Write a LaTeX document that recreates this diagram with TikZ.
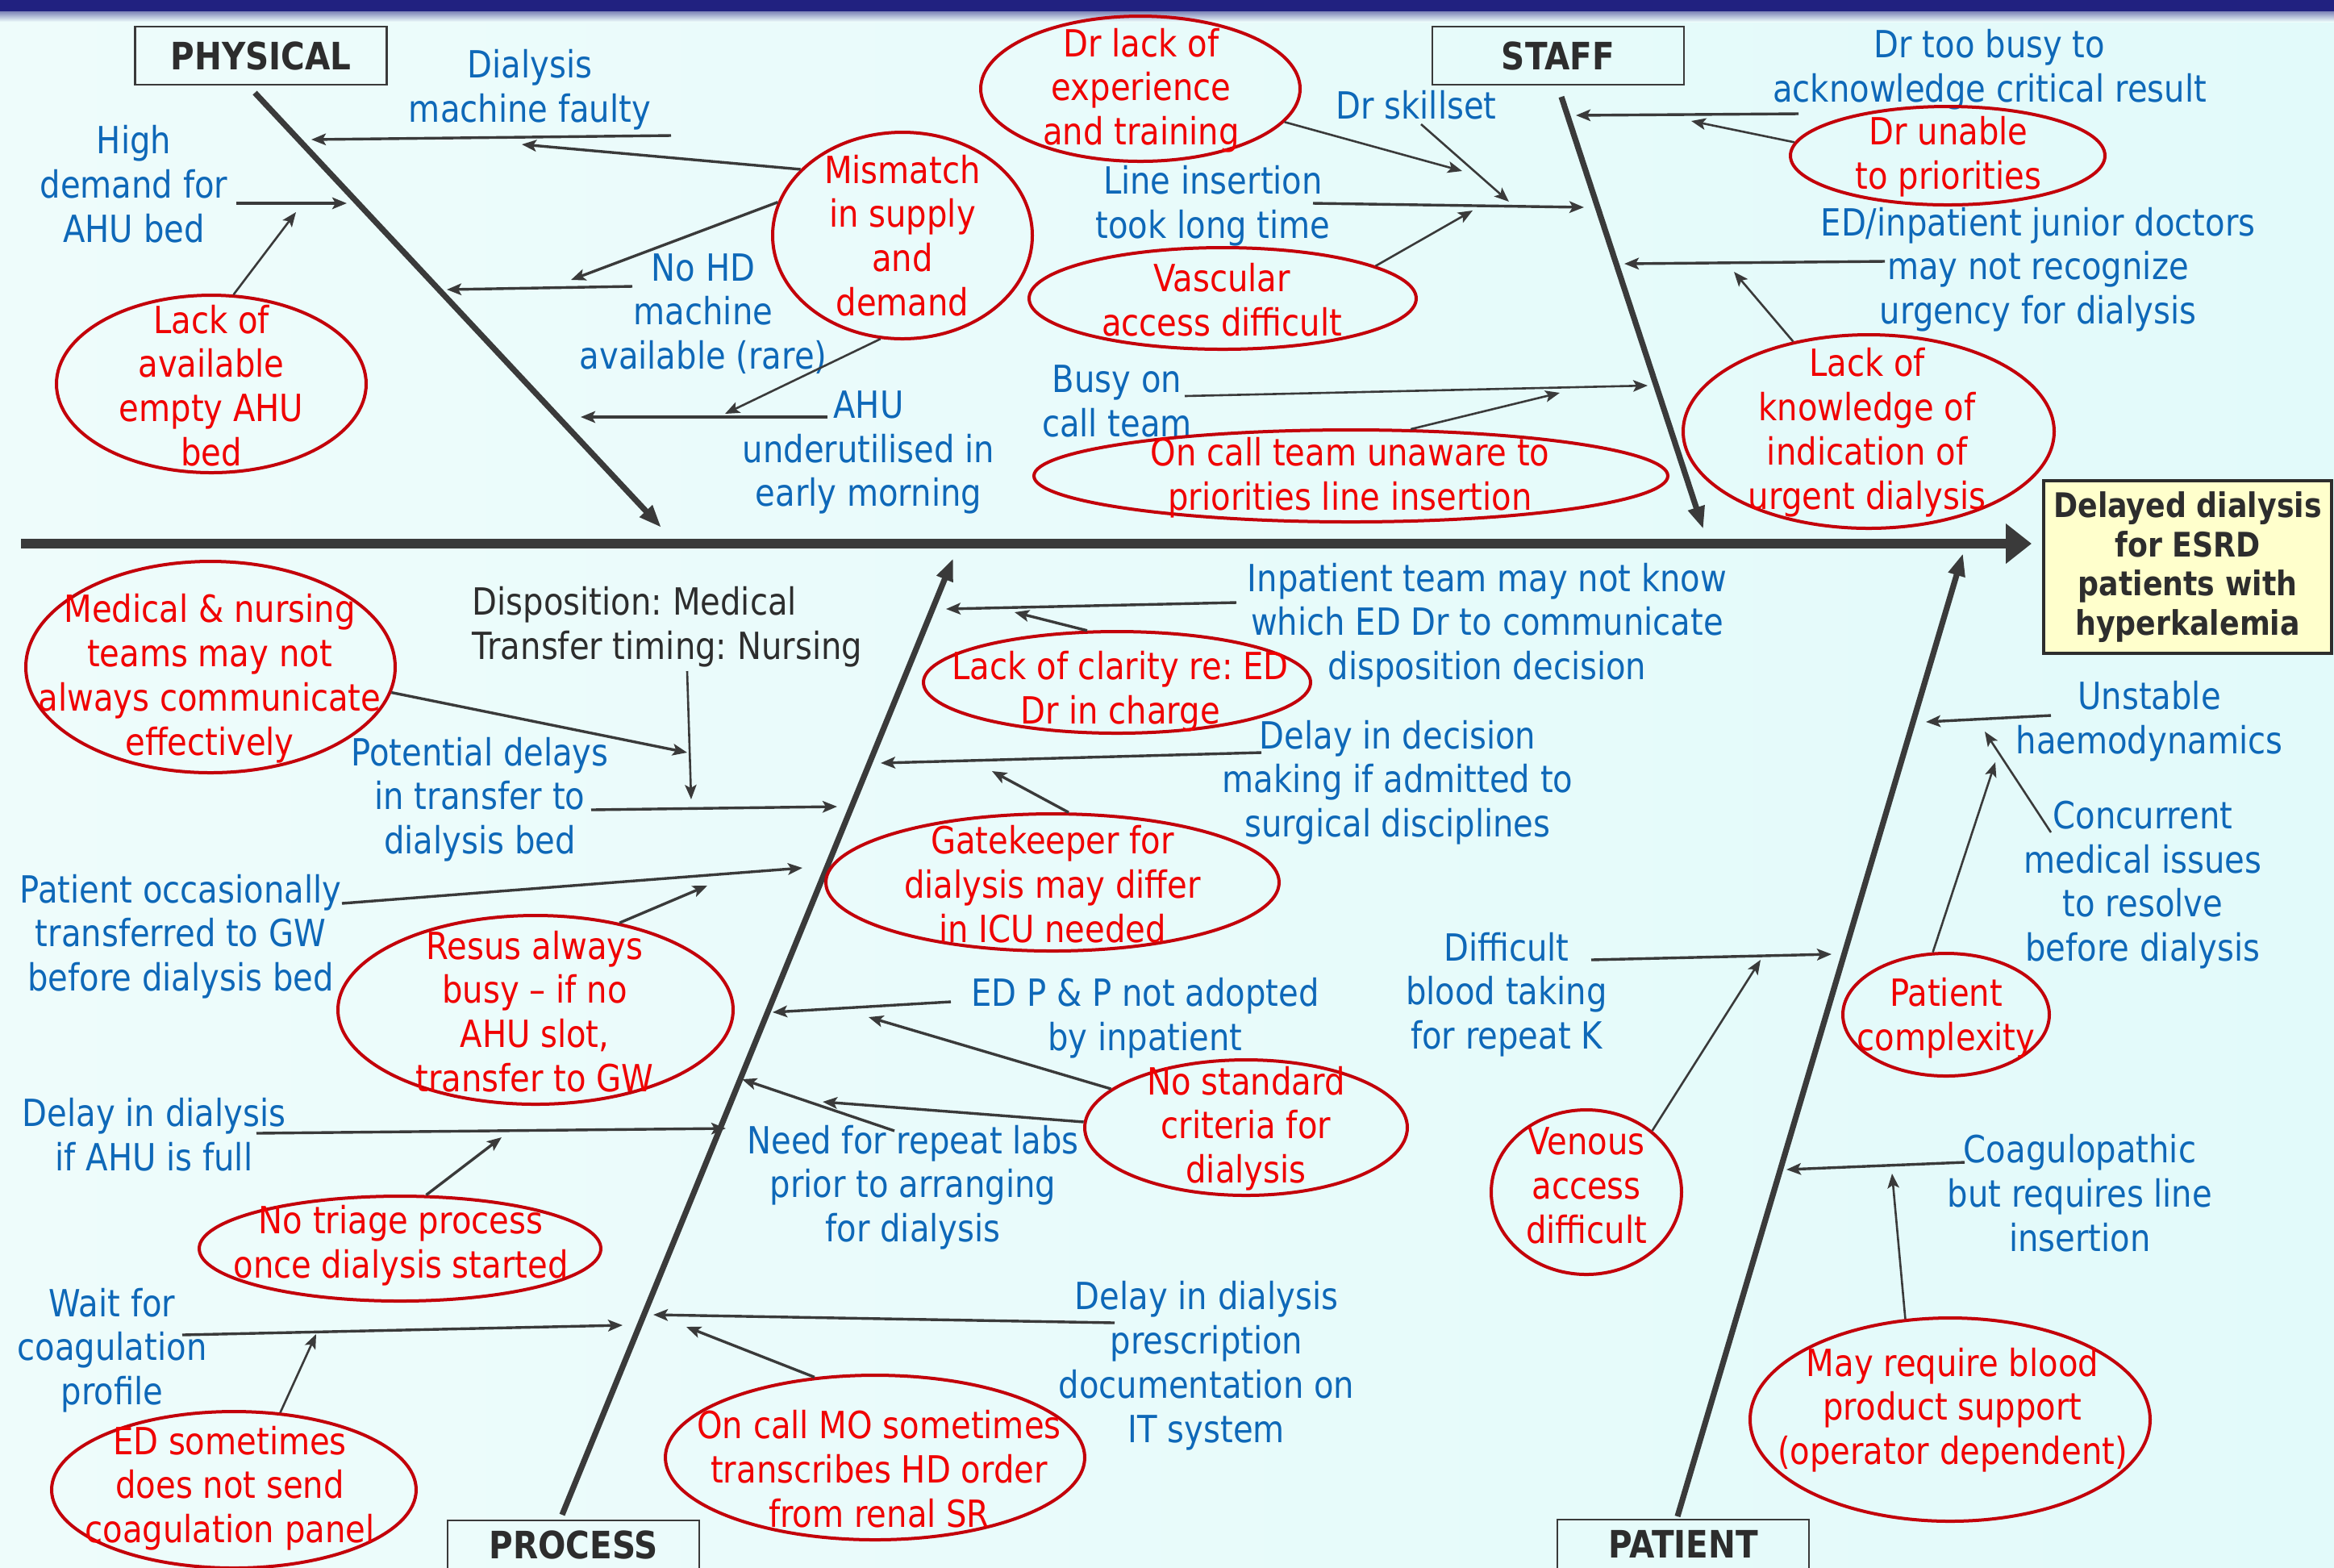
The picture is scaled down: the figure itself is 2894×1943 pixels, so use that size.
\documentclass[tikz,border=0pt]{standalone}
\usepackage{fontspec}
\setmainfont{DejaVu Sans}[FakeStretch=0.865]
\usetikzlibrary{arrows.meta,shapes.geometric}
\definecolor{bgL}{RGB}{238,252,251}
\definecolor{bgR}{RGB}{226,250,250}
\definecolor{navy}{RGB}{33,33,128}
\definecolor{tblue}{RGB}{14,104,184}
\definecolor{tred}{RGB}{240,0,0}
\definecolor{ered}{RGB}{195,0,10}
\definecolor{lgray}{RGB}{58,58,58}
\definecolor{bgray}{RGB}{45,45,45}
\definecolor{ylw}{RGB}{255,255,204}
\frenchspacing
\begin{document}
\begin{tikzpicture}[x=0.25pt,y=-0.25pt,
  txt/.style={inner sep=0pt,align=center,font=\fontsize{11.6}{13.7}\selectfont},
  bt/.style={txt,text=tblue},
  rt/.style={txt,text=tred},
  gt/.style={txt,align=left,text=bgray},
  ell/.style={ellipse,draw=ered,line width=1pt,inner sep=0pt},
  conn/.style={draw=lgray,line width=0.85pt,-{Stealth[length=4.5pt,width=3.6pt,inset=1pt]}},
  sconn/.style={conn,line width=0.65pt},
  bone/.style={draw=lgray,line width=1.8pt,-{Triangle[length=7pt,width=5pt]}},
  catbox/.style={draw=lgray,line width=0.6pt,inner sep=0pt,text=bgray,
    font=\bfseries\fontsize{11.7}{14}\selectfont,minimum width=78pt,minimum height=18pt}]
\useasboundingbox (0,0) rectangle (2894,1943);
\clip (0,0) rectangle (2894,1943);
\shade[left color=bgL,right color=bgR] (0,0) rectangle (2894,1943);
\fill[navy] (0,0) rectangle (2894,14);
\shade[top color=navy!55!bgL,bottom color=bgL] (0,14) rectangle (2894,27);

% ---------- main spine and effect ----------
\coordinate (spS) at (26,674);
\coordinate (spE) at (2519,674);
\draw[draw=lgray,line width=3.2pt,-{Triangle[length=8pt,width=12pt]}] (spS) -- (spE);
\node[draw=bgray,line width=0.8pt,fill=ylw,minimum width=89.25pt,minimum height=53.5pt,
  inner sep=0pt,align=center,text=bgray,font=\bfseries\fontsize{10.5}{12.1}\selectfont]
  (eff) at (2712.5,703) {Delayed dialysis\\for ESRD\\patients with\\hyperkalemia};

% ---------- category boxes and bones ----------
\node[catbox] (bPhys) at (323.5,69) {PHYSICAL};
\node[catbox] (bStaff) at (1932,69) {STAFF};
\node[catbox,anchor=north] (bProc) at (711,1884) {\raisebox{3pt}{PROCESS}};
\node[catbox,anchor=north] (bPat) at (2087,1883) {\raisebox{3pt}{PATIENT}};
\coordinate (b1s) at (316,115);  \coordinate (b1e) at (820,654);
\coordinate (b2s) at (1936,120); \coordinate (b2e) at (2112,656);
\coordinate (b3s) at (697,1878); \coordinate (b3e) at (1182,692);
\coordinate (b4s) at (2080,1880); \coordinate (b4e) at (2434,686);
\draw[bone] (b1s) -- (b1e);
\draw[bone] (b2s) -- (b2e);
\draw[bone] (b3s) -- (b3e);
\draw[bone] (b4s) -- (b4e);

% ---------- PHYSICAL ----------
\node[bt] (tDial) at (657,111) {Dialysis\\machine faulty};
\node[bt] (tNoHD) at (872,389) {No HD\\machine\\available (rare)};
\node[bt] (tAHU) at (1077,561) {AHU\\underutilised in\\early morning};
\node[bt] (tHigh) at (166,228) {High\\demand for\\AHU bed};
\node[ell,minimum width=80.5pt,minimum height=64pt] (eMis) at (1119,292) {};
\node[rt] (eMisT) at (1119,292) {Mismatch\\in supply\\and\\demand};
\node[ell,minimum width=96pt,minimum height=55pt] (eAvail) at (262,476) {};
\node[rt] (eAvailT) at (262,478) {Lack of\\available\\empty AHU\\bed};

\coordinate (a1s) at (832,168);  \coordinate (a1e) at (386,173);
\coordinate (a2e) at (647,179);
\coordinate (a3s) at (784,355);  \coordinate (a3e) at (554,359);
\coordinate (a4e) at (708,347);
\coordinate (a5s) at (1026,517); \coordinate (a5e) at (720,517);
\coordinate (a6e) at (899,513);
\coordinate (a7s) at (293,252);  \coordinate (a7e) at (430,252);
\coordinate (a8e) at (367,263);
\draw[conn] (a1s) -- (a1e);
\draw[conn] (eMis.147.6) -- (a2e);
\draw[conn] (a3s) -- (a3e);
\draw[conn] (eMis.165.2) -- (a4e);
\draw[conn] (a5s) -- (a5e);
\draw[sconn] (eMis.258.5) -- (a6e);
\draw[conn] (a7s) -- (a7e);
\draw[sconn] (eAvail.76.2) -- (a8e);

% ---------- STAFF ----------
\node[bt] (tBusyDr) at (2467,86) {Dr too busy to\\acknowledge critical result};
\node[ell,minimum width=97.5pt,minimum height=30.5pt] (eUnable) at (2415,193) {};
\node[rt] (eUnableT) at (2416,194) {Dr unable\\to priorities};
\node[bt] (tSkill) at (1756,130) {Dr skillset};
\node[ell,minimum width=99pt,minimum height=45pt] (eExp) at (1414,110) {};
\node[rt] (eExpT) at (1415,112) {Dr lack of\\experience\\and training};
\node[bt] (tLine) at (1504,255) {Line insertion\\took long time};
\node[ell,minimum width=120pt,minimum height=31.5pt] (eVasc) at (1516,370) {};
\node[rt] (eVascT) at (1515,372) {Vascular\\access difficult};
\node[bt] (tBusyOn) at (1385,497) {Busy on\\call team};
\node[ell,minimum width=196.5pt,minimum height=28.5pt] (eUnaware) at (1675,590) {};
\node[rt] (eUnawareT) at (1674,592) {On call team unaware to\\priorities line insertion};
\node[bt] (tJunior) at (2527,334) {ED/inpatient junior doctors\\may not recognize\\urgency for dialysis};
\node[ell,minimum width=115pt,minimum height=60pt] (eKnow) at (2317,535) {};
\node[rt] (eKnowT) at (2315,536) {Lack of\\knowledge of\\indication of\\urgent dialysis};

\coordinate (a9s) at (2230,141);  \coordinate (a9e) at (1954,143);
\coordinate (a10e) at (2097,150);
\coordinate (a11s) at (1762,154); \coordinate (a11e) at (1871,250);
\coordinate (a12e) at (1813,212);
\coordinate (a13s) at (1628,252); \coordinate (a13e) at (1964,257);
\coordinate (a14e) at (1826,261);
\coordinate (a15s) at (1469,491); \coordinate (a15e) at (2043,478);
\coordinate (a16e) at (1934,487);
\coordinate (a17s) at (2337,324); \coordinate (a17e) at (2014,327);
\coordinate (a18e) at (2150,337);
\draw[conn] (a9s) -- (a9e);
\draw[sconn] (eUnable.175.9) -- (a10e);
\draw[sconn] (a11s) -- (a11e);
\draw[sconn] (eExp.347) -- (a12e);
\draw[conn] (a13s) -- (a13e);
\draw[sconn] (eVasc.12.8) -- (a14e);
\draw[sconn] (a15s) -- (a15e);
\draw[sconn] (eUnaware.38.9) -- (a16e);
\draw[conn] (a17s) -- (a17e);
\draw[sconn] (eKnow.130.8) -- (a18e);

% ---------- PROCESS ----------
\node[gt,anchor=west] (tDisp) at (585,777) {Disposition: Medical\\Transfer timing: Nursing};
\node[ell,minimum width=114.5pt,minimum height=65.5pt] (eComm) at (261,827) {};
\node[rt] (eCommT) at (260,841) {Medical \& nursing\\teams may not\\always communicate\\effectively};
\node[bt] (tPot) at (595,991) {Potential delays\\in transfer to\\dialysis bed};
\node[bt] (tOcc) at (224,1161) {Patient occasionally\\transferred to GW\\before dialysis bed};
\node[ell,minimum width=122.5pt,minimum height=58.5pt] (eResus) at (664,1252) {};
\node[rt] (eResusT) at (663,1254) {Resus always\\busy -- if no\\AHU slot,\\transfer to GW};
\node[bt] (tFull) at (191,1407) {Delay in dialysis\\if AHU is full};
\node[ell,minimum width=124.5pt,minimum height=32.5pt] (eTriage) at (496,1548) {};
\node[rt] (eTriageT) at (497,1544) {No triage process\\once dialysis started};
\node[bt] (tWait) at (139,1674) {Wait for\\coagulation\\profile};
\node[ell,minimum width=113pt,minimum height=48.5pt] (eEDs) at (290,1847) {};
\node[rt] (eEDsT) at (285,1845) {ED sometimes\\does not send\\coagulation panel};
\node[bt] (tInp) at (1844,775) {Inpatient team may not know\\which ED Dr to communicate\\disposition decision};
\node[ell,minimum width=120pt,minimum height=31.5pt] (eClar) at (1385,846) {};
\node[rt] (eClarT) at (1389,857) {Lack of clarity re: ED\\Dr in charge};
\node[bt] (tDec) at (1733,970) {Delay in decision\\making if admitted to\\surgical disciplines};
\node[ell,minimum width=140.5pt,minimum height=42.5pt] (eGate) at (1305,1094) {};
\node[rt] (eGateT) at (1305,1096) {Gatekeeper for\\dialysis may differ\\in ICU needed};
\node[bt] (tPP) at (1420,1262) {ED P \& P not adopted\\by inpatient};
\node[ell,minimum width=100pt,minimum height=42pt] (eStd) at (1545,1398) {};
\node[rt] (eStdT) at (1545,1399) {No standard\\criteria for\\dialysis};
\node[bt] (tLabs) at (1132,1472) {Need for repeat labs\\prior to arranging\\for dialysis};
\node[bt] (tPres) at (1496,1693) {Delay in dialysis\\prescription\\documentation on\\IT system};
\node[ell,minimum width=130pt,minimum height=51pt] (eMO) at (1085,1807) {};
\node[rt] (eMOT) at (1090,1821) {On call MO sometimes\\transcribes HD order\\from renal SR};

\coordinate (a19s) at (852,832);  \coordinate (a19e) at (857,991);
\coordinate (a20e) at (852,933);
\coordinate (a21s) at (733,1004); \coordinate (a21e) at (1038,1000);
\coordinate (a22s) at (424,1120); \coordinate (a22e) at (995,1076);
\coordinate (a23e) at (877,1098);
\coordinate (a24s) at (318,1405); \coordinate (a24e) at (900,1399);
\coordinate (a25e) at (622,1410);
\coordinate (a26s) at (226,1655); \coordinate (a26e) at (772,1643);
\coordinate (a27e) at (392,1654);
\coordinate (a28s) at (1533,747); \coordinate (a28e) at (1173,755);
\coordinate (a29e) at (1258,759);
\coordinate (a30s) at (1564,933); \coordinate (a30e) at (1092,946);
\coordinate (a31e) at (1230,956);
\coordinate (a32s) at (1179,1242); \coordinate (a32e) at (958,1255);
\coordinate (a33e) at (1077,1261);
\coordinate (a34s) at (1109,1402); \coordinate (a34e) at (920,1338);
\coordinate (a35e) at (1020,1366);
\coordinate (a36s) at (1382,1640); \coordinate (a36e) at (810,1630);
\coordinate (a37e) at (851,1645);
\draw[sconn] (a19s) -- (a19e);
\draw[conn] (eComm.352.3) -- (a20e);
\draw[conn] (a21s) -- (a21e);
\draw[conn] (a22s) -- (a22e);
\draw[conn] (eResus.46.3) -- (a23e);
\draw[conn] (a24s) -- (a24e);
\draw[conn] (eTriage.64.8) -- (a25e);
\draw[conn] (a26s) -- (a26e);
\draw[sconn] (eEDs.59.9) -- (a27e);
\draw[conn] (a28s) -- (a28e);
\draw[conn] (eClar.120.4) -- (a29e);
\draw[conn] (a30s) -- (a30e);
\draw[conn] (eGate.77.2) -- (a31e);
\draw[conn] (a32s) -- (a32e);
\draw[conn] (eStd.164.1) -- (a33e);
\draw[conn] (a34s) -- (a34e);
\draw[conn] (eStd.178) -- (a35e);
\draw[conn] (a36s) -- (a36e);
\draw[conn] (eMO.127) -- (a37e);

% ---------- PATIENT ----------
\node[bt] (tUnst) at (2665,894) {Unstable\\haemodynamics};
\node[bt] (tConc) at (2657,1097) {Concurrent\\medical issues\\to resolve\\before dialysis};
\node[ell,minimum width=64pt,minimum height=38pt] (eCplx) at (2413,1258) {};
\node[rt] (eCplxT) at (2413,1262) {Patient\\complexity};
\node[bt] (tDiff) at (1868,1233) {Difficult\\blood taking\\for repeat K};
\node[ell,minimum width=59pt,minimum height=51pt] (eVen) at (1967,1478) {};
\node[rt] (eVenT) at (1967,1470) {Venous\\access\\difficult};
\node[bt] (tCoag) at (2579,1479) {Coagulopathic\\but requires line\\insertion};
\node[ell,minimum width=124pt,minimum height=63pt] (eBlood) at (2418,1760) {};
\node[rt] (eBloodT) at (2421,1748) {May require blood\\product support\\(operator dependent)};

\coordinate (a38s) at (2543,887);  \coordinate (a38e) at (2388,895);
\coordinate (a39s) at (2543,1032); \coordinate (a39e) at (2461,907);
\coordinate (a40e) at (2474,945);
\coordinate (a41s) at (1973,1190); \coordinate (a41e) at (2271,1183);
\coordinate (a42e) at (2183,1190);
\coordinate (a43s) at (2436,1441); \coordinate (a43e) at (2215,1450);
\coordinate (a44e) at (2346,1455);
\draw[conn] (a38s) -- (a38e);
\draw[sconn] (a39s) -- (a39e);
\draw[sconn] (eCplx.102.5) -- (a40e);
\draw[conn] (a41s) -- (a41e);
\draw[sconn] (eVen.43.6) -- (a42e);
\draw[conn] (a43s) -- (a43e);
\draw[sconn] (eBlood.114.2) -- (a44e);
\end{tikzpicture}
\end{document}
